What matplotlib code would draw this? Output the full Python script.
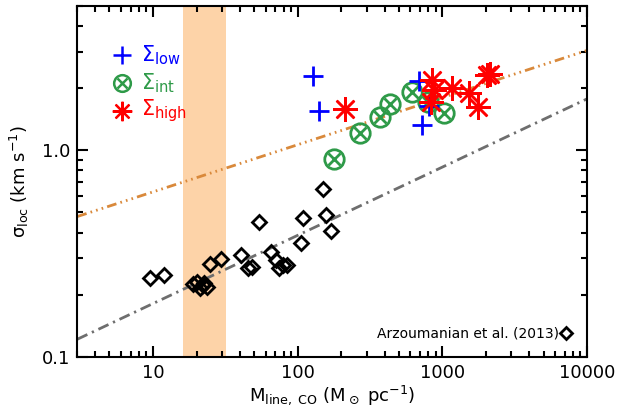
import numpy as np
import matplotlib
matplotlib.use("Agg")
import matplotlib.pyplot as plt
from matplotlib.ticker import FixedLocator, FixedFormatter, LogLocator, NullFormatter

plt.rcParams['mathtext.default'] = 'regular'

# Arzoumanian et al. (2013) filaments
m_arz = [9.6, 12.0, 19.0, 20.3, 21.0, 22.0, 22.7, 23.5, 24.6, 29.6, 40.7, 45.2, 48.2,
         53.8, 65.6, 71.0, 74.2, 78.9, 84.4, 105.4, 108.3, 148.6, 156.0, 170.6]
s_arz = [0.240, 0.249, 0.225, 0.230, 0.215, 0.222, 0.228, 0.218, 0.282, 0.298, 0.312, 0.269, 0.271,
         0.449, 0.323, 0.295, 0.269, 0.279, 0.279, 0.357, 0.470, 0.650, 0.488, 0.409]

# CO filaments split by column density
m_low = [127, 140, 690, 809, 728]
s_low = [2.29, 1.55, 2.16, 1.64, 1.33]
m_int = [177, 270, 368, 434, 621, 800, 1023]
s_int = [0.911, 1.215, 1.446, 1.67, 1.91, 1.71, 1.51]
m_high = [213, 850, 870, 830, 1170, 1530, 1750, 2040, 2150]
s_high = [1.59, 2.18, 1.96, 1.72, 2.01, 1.90, 1.61, 2.30, 2.35]

# power-law fits sigma = a * M^b
fit_co = (0.372, 0.228)
fit_arz = (0.0848, 0.33)

# critical line mass range
band = (16, 32)

fig = plt.figure(figsize=(6.26, 4.13), dpi=100)
ax = fig.add_axes([0.1235, 0.1356, 0.8143, 0.8506])
ax.set_xscale('log')
ax.set_yscale('log')
ax.set_xlim(3, 10000)
ax.set_ylim(0.1, 5)

ax.axvspan(band[0], band[1], color='#fdd3a8', lw=0, zorder=0)

mm = np.logspace(np.log10(3), 4, 200)
ax.plot(mm, fit_co[0] * mm**fit_co[1], color='#d9893b', lw=2,
        dashes=[3.5, 1.5, 0.6, 1.5, 0.6, 1.5, 0.6, 1.5], zorder=2)
ax.plot(mm, fit_arz[0] * mm**fit_arz[1], color='#6e6e6e', lw=2,
        dashes=[4, 1.8, 0.8, 1.8], zorder=2)

ax.plot(m_arz, s_arz, 'D', ms=7, mfc='none', mec='black', mew=2, ls='none', zorder=3)

green = '#2e9a48'
ax.plot(m_int, s_int, 'o', ms=14, mfc='none', mec=green, mew=2, ls='none', zorder=4)
ax.plot(m_int, s_int, 'x', ms=8, mec=green, mew=2, ls='none', zorder=4)
ax.plot(m_low, s_low, '+', ms=15, mec='#0000ff', mew=2, ls='none', zorder=5)
ax.plot(m_high, s_high, marker=(8, 2, 0), ms=18, mec='#ff0000', mew=1.8, ls='none', zorder=5)

# legend drawn by hand
tr = ax.transAxes
rows = [0.86, 0.78, 0.70]
ax.plot(0.087, rows[0], '+', ms=13, mec='#0000ff', mew=1.8, transform=tr)
ax.plot(0.087, rows[1], 'o', ms=12, mfc='none', mec=green, mew=1.8, transform=tr)
ax.plot(0.087, rows[1], 'x', ms=7, mec=green, mew=1.8, transform=tr)
ax.plot(0.087, rows[2], marker=(8, 2, 0), ms=14, mec='#ff0000', mew=1.6, transform=tr)
ax.text(0.125, rows[0], r'$\Sigma_{low}$', color='#0000ff', fontsize=15, va='center', transform=tr)
ax.text(0.125, rows[1], r'$\Sigma_{int}$', color=green, fontsize=15, va='center', transform=tr)
ax.text(0.125, rows[2], r'$\Sigma_{high}$', color='#ff0000', fontsize=15, va='center', transform=tr)

ax.text(0.944, 0.068, 'Arzoumanian et al. (2013)', fontsize=10, ha='right', va='center', transform=tr)
ax.plot(0.958, 0.068, 'D', ms=6, mfc='none', mec='black', mew=2, transform=tr)

ax.xaxis.set_major_locator(FixedLocator([10, 100, 1000, 10000]))
ax.xaxis.set_major_formatter(FixedFormatter(['10', '100', '1000', '10000']))
ax.xaxis.set_minor_locator(LogLocator(base=10, subs=np.arange(2, 10)))
ax.xaxis.set_minor_formatter(NullFormatter())
ax.yaxis.set_major_locator(FixedLocator([0.1, 1.0]))
ax.yaxis.set_major_formatter(FixedFormatter(['0.1', '1.0']))
ax.yaxis.set_minor_locator(LogLocator(base=10, subs=np.arange(2, 10)))
ax.yaxis.set_minor_formatter(NullFormatter())

ax.tick_params(which='both', direction='in', top=True, right=True, width=1.5, labelsize=13)
ax.tick_params(which='major', length=8, pad=5)
ax.tick_params(which='minor', length=4)
for s in ax.spines.values():
    s.set_linewidth(1.5)

ax.set_xlabel(r'M$_{line,\ CO}$ (M$_\odot$ pc$^{-1}$)', fontsize=13, labelpad=1)
ax.set_ylabel(r'$\sigma_{loc}$ (km s$^{-1}$)', fontsize=13, labelpad=8)

fig.savefig('out.png', dpi=100)
